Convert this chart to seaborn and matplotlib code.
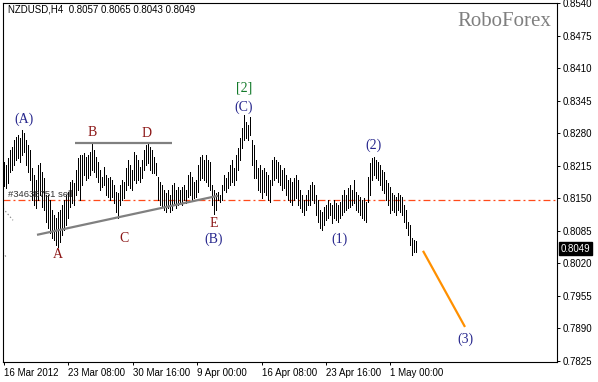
import matplotlib
matplotlib.use("Agg")
import matplotlib.pyplot as plt
import matplotlib.transforms as mtransforms
import numpy as np
import pandas as pd
import seaborn as sns

# ---------------- data ----------------
highs = [
    0.8222, 0.8216, 0.8230, 0.8246, 0.8252, 0.8266, 0.8272, 0.8276, 0.8270, 0.8286,
    0.8280, 0.8266, 0.8256, 0.8246, 0.8210, 0.8196, 0.8186, 0.8216, 0.8220, 0.8202,
    0.8190, 0.8156, 0.8156, 0.8146, 0.8126, 0.8116, 0.8110, 0.8122, 0.8126, 0.8136,
    0.8146, 0.8156, 0.8162, 0.8182, 0.8186, 0.8180, 0.8206, 0.8230, 0.8236, 0.8236,
    0.8240, 0.8232, 0.8236, 0.8242, 0.8260, 0.8246, 0.8232, 0.8222, 0.8206, 0.8192,
    0.8212, 0.8196, 0.8190, 0.8192, 0.8186, 0.8176, 0.8162, 0.8160, 0.8176, 0.8186,
    0.8182, 0.8210, 0.8226, 0.8216, 0.8206, 0.8242, 0.8236, 0.8226, 0.8212, 0.8226,
    0.8246, 0.8256, 0.8260, 0.8252, 0.8246, 0.8232, 0.8220, 0.8192, 0.8182, 0.8176,
    0.8166, 0.8160, 0.8166, 0.8156, 0.8176, 0.8180, 0.8166, 0.8172, 0.8166, 0.8172,
    0.8176, 0.8166, 0.8196, 0.8202, 0.8192, 0.8182, 0.8186, 0.8216, 0.8232, 0.8236,
    0.8226, 0.8236, 0.8226, 0.8222, 0.8176, 0.8166, 0.8160, 0.8162, 0.8156, 0.8176,
    0.8196, 0.8190, 0.8202, 0.8216, 0.8226, 0.8210, 0.8236, 0.8250, 0.8270, 0.8290,
    0.8316, 0.8302, 0.8296, 0.8312, 0.8266, 0.8256, 0.8226, 0.8210, 0.8216, 0.8206,
    0.8210, 0.8202, 0.8196, 0.8186, 0.8226, 0.8232, 0.8226, 0.8222, 0.8216, 0.8206,
    0.8210, 0.8196, 0.8186, 0.8190, 0.8182, 0.8190, 0.8196, 0.8186, 0.8166, 0.8156,
    0.8146, 0.8156, 0.8166, 0.8176, 0.8182, 0.8176, 0.8156, 0.8146, 0.8126, 0.8122,
    0.8132, 0.8136, 0.8146, 0.8140, 0.8136, 0.8146, 0.8140, 0.8136, 0.8142, 0.8156,
    0.8166, 0.8156, 0.8170, 0.8176, 0.8166, 0.8186, 0.8162, 0.8156, 0.8152, 0.8146,
    0.8150, 0.8142, 0.8192, 0.8220, 0.8230, 0.8232, 0.8226, 0.8222, 0.8216, 0.8206,
    0.8202, 0.8186, 0.8180, 0.8172, 0.8160, 0.8156, 0.8152, 0.8160, 0.8156, 0.8152,
    0.8136, 0.8126, 0.8102, 0.8096, 0.8070, 0.8066, 0.8065,
]
lows = [
    0.8174, 0.8170, 0.8180, 0.8202, 0.8206, 0.8216, 0.8226, 0.8230, 0.8222, 0.8236,
    0.8242, 0.8216, 0.8202, 0.8186, 0.8146, 0.8136, 0.8130, 0.8146, 0.8156, 0.8132,
    0.8126, 0.8102, 0.8090, 0.8080, 0.8070, 0.8066, 0.8056, 0.8052, 0.8062, 0.8076,
    0.8086, 0.8096, 0.8110, 0.8132, 0.8140, 0.8136, 0.8156, 0.8166, 0.8146, 0.8176,
    0.8196, 0.8186, 0.8190, 0.8196, 0.8206, 0.8202, 0.8192, 0.8182, 0.8166, 0.8172,
    0.8176, 0.8156, 0.8152, 0.8146, 0.8152, 0.8140, 0.8122, 0.8110, 0.8136, 0.8146,
    0.8150, 0.8166, 0.8176, 0.8170, 0.8166, 0.8186, 0.8180, 0.8186, 0.8182, 0.8190,
    0.8206, 0.8216, 0.8220, 0.8206, 0.8200, 0.8200, 0.8196, 0.8146, 0.8136, 0.8132,
    0.8126, 0.8122, 0.8130, 0.8122, 0.8126, 0.8136, 0.8130, 0.8136, 0.8140, 0.8136,
    0.8146, 0.8140, 0.8152, 0.8156, 0.8146, 0.8150, 0.8152, 0.8162, 0.8186, 0.8190,
    0.8186, 0.8182, 0.8174, 0.8166, 0.8136, 0.8118, 0.8126, 0.8146, 0.8142, 0.8146,
    0.8166, 0.8162, 0.8170, 0.8176, 0.8182, 0.8176, 0.8186, 0.8206, 0.8226, 0.8250,
    0.8266, 0.8270, 0.8266, 0.8276, 0.8216, 0.8190, 0.8190, 0.8166, 0.8162, 0.8150,
    0.8162, 0.8156, 0.8146, 0.8142, 0.8176, 0.8186, 0.8190, 0.8182, 0.8176, 0.8166,
    0.8170, 0.8156, 0.8146, 0.8142, 0.8136, 0.8146, 0.8150, 0.8136, 0.8130, 0.8122,
    0.8116, 0.8126, 0.8136, 0.8136, 0.8146, 0.8140, 0.8116, 0.8102, 0.8090, 0.8086,
    0.8096, 0.8106, 0.8110, 0.8116, 0.8100, 0.8110, 0.8106, 0.8102, 0.8110, 0.8116,
    0.8122, 0.8126, 0.8130, 0.8132, 0.8136, 0.8140, 0.8126, 0.8122, 0.8116, 0.8110,
    0.8106, 0.8102, 0.8142, 0.8156, 0.8186, 0.8196, 0.8190, 0.8186, 0.8176, 0.8166,
    0.8160, 0.8146, 0.8136, 0.8120, 0.8126, 0.8122, 0.8116, 0.8126, 0.8122, 0.8116,
    0.8102, 0.8090, 0.8076, 0.8056, 0.8036, 0.8042, 0.8043,
]

ytick_values = [0.8540, 0.8475, 0.8410, 0.8345, 0.8280, 0.8215, 0.8150,
                0.8085, 0.8020, 0.7955, 0.7890, 0.7825]
xtick_bars = [0, 32, 64.5, 96.5, 129, 161, 193]
xtick_labels = ["16 Mar 2012", "23 Mar 08:00", "30 Mar 16:00", "9 Apr 00:00",
                "16 Apr 08:00", "23 Apr 16:00", "1 May 00:00"]

header = "NZDUSD,H4  0.8057 0.8065 0.8043 0.8049"
last_price = 0.8049
order_level = 0.8147
order_text = "#34638751 sell"

# trend lines (bar index, price)
line_bd_x = [35.5, 84.0]
line_bd_y = [0.8260, 0.8260]
line_ae_x = [16.5, 107.0]
line_ae_y = [0.8077, 0.8155]
line_w3_x = [209.5, 230.5]
line_w3_y = [0.8045, 0.7893]

wave_labels = [
    ("(A)", 10.0, 0.8308, "navy"),
    ("B", 44.0, 0.8282, "red"),
    ("D", 71.5, 0.8280, "red"),
    ("C", 60.0, 0.8070, "red"),
    ("A", 27.0, 0.8038, "red"),
    ("E", 105.0, 0.8099, "red"),
    ("(B)", 105.0, 0.8068, "navy"),
    ("[2]", 120.0, 0.8371, "green"),
    ("(C)", 120.0, 0.8332, "navy"),
    ("(1)", 168.0, 0.8068, "navy"),
    ("(2)", 184.5, 0.8256, "navy"),
    ("(3)", 230.5, 0.7868, "navy"),
]
label_colors = {"navy": "#25258c", "red": "#8b1515", "green": "#137a2a"}

# ---------------- figure ----------------
sns.set_style("white")
plt.rcParams["font.family"] = ["Liberation Sans", "DejaVu Sans"]
plt.rcParams["lines.scale_dashes"] = False

W, H = 598, 382
fig = plt.figure(figsize=(W / 100, H / 100), dpi=100)
fig.patch.set_facecolor("white")
ax = fig.add_axes([3 / W, (H - 362) / H, 554 / W, 359 / H])
ax.set_facecolor("white")

n = len(highs)
bar_idx = np.arange(n)
df = pd.DataFrame({
    "bar": np.concatenate([bar_idx, bar_idx]),
    "price": np.concatenate([np.array(highs), np.array(lows)]),
})
sns.lineplot(data=df, x="bar", y="price", units="bar", estimator=None,
             sort=False, color="black", lw=0.72, ax=ax, legend=False,
             antialiased=False)

# order level line
ax.axhline(order_level, color="#ff4a1a", lw=0.9, dashes=(5, 2.2, 1.4, 2.2), zorder=1)
ax.text(2, order_level + 0.00025, order_text, fontsize=6.8, color="#333333",
        ha="left", va="bottom", zorder=3)

# small gray arrows at the left
ax.plot([-0.5, 4.5], [0.8130, 0.8106], color="#888888", lw=0.8, ls=":")
ax.plot([-0.5, 1.5], [0.8042, 0.8030], color="#888888", lw=0.8, ls=":")

# trend lines
ax.plot(line_bd_x, line_bd_y, color="#808080", lw=1.6, solid_capstyle="butt", zorder=4)
ax.plot(line_ae_x, line_ae_y, color="#808080", lw=1.6, solid_capstyle="butt", zorder=4)
ax.plot(line_w3_x, line_w3_y, color="#ff9000", lw=1.6, solid_capstyle="butt", zorder=4)

for txt, xb, yp, c in wave_labels:
    ax.text(xb, yp, txt, fontsize=10, color=label_colors[c], ha="center",
            va="center", family=["Liberation Serif"], zorder=5)

ax.set_xlim(-0.5, 276.5)
ax.set_ylim(0.7823, 0.8540)
ax.set_xlabel("")
ax.set_ylabel("")

ax.yaxis.tick_right()
ax.set_yticks(ytick_values)
ax.set_yticklabels([f"{v:.4f}" for v in ytick_values])
ax.set_xticks(xtick_bars)
ax.set_xticklabels(xtick_labels, ha="left")
ax.tick_params(axis="both", direction="out", length=2.5, width=0.7,
               color="black", labelsize=7, labelcolor="black")
ax.tick_params(axis="y", pad=1.5, left=False, right=True)
ax.tick_params(axis="x", pad=1.5, bottom=True)
for lab in ax.get_xticklabels():
    lab.set_horizontalalignment("left")

for s in ax.spines.values():
    s.set_visible(True)
    s.set_color("black")
    s.set_linewidth(0.8)

# current price box on the right axis
trans = mtransforms.blended_transform_factory(ax.transAxes, ax.transData)
ax.text(1.0065, last_price, f"{last_price:.4f}", transform=trans, fontsize=7,
        color="white", ha="left", va="center", zorder=10, clip_on=False,
        bbox=dict(boxstyle="square,pad=0.15", fc="black", ec="black"))

# header and watermark
fig.text(8 / W, 1 - 10 / H, header, fontsize=7, color="black", ha="left", va="center")
ax.text(0.99, 0.948, "RoboForex", transform=ax.transAxes, fontsize=15,
        color="#7f7f7f", ha="right", va="center", family=["Liberation Serif"])

fig.savefig("out.png", dpi=100)
